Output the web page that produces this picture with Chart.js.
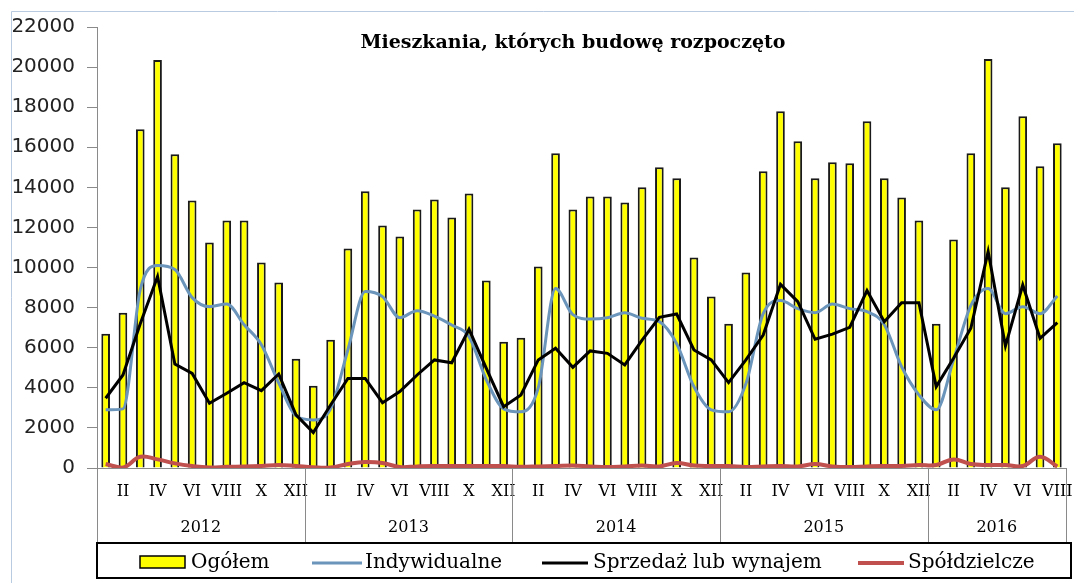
<!DOCTYPE html>
<html><head><meta charset="utf-8">
<script src="https://cdn.jsdelivr.net/npm/chart.js@4"></script>
<style>html,body{margin:0;padding:0;background:#fff}#w{width:1074px;height:583px;position:relative}</style>
</head><body><div id="w"><canvas id="c" width="1074" height="583"></canvas></div>
<script>
const title = 'Mieszkania, których budowę rozpoczęto';
const years = ['2012','2013','2014','2015','2016'];
const monthsPerYear = [12,12,12,12,8];
const roman = ['I','II','III','IV','V','VI','VII','VIII','IX','X','XI','XII'];
const seriesNames = ['Ogółem','Indywidualne','Sprzedaż lub wynajem','Spółdzielcze'];
const yTicks = [0,2000,4000,6000,8000,10000,12000,14000,16000,18000,20000,22000];

const ogolem = [
  6700,7750,16900,20350,15650,13350,11250,12350,12350,10250,9250,5450,
  4100,6400,10950,13800,12100,11550,12900,13400,12500,13700,9350,6300,
  6500,10050,15700,12900,13550,13550,13250,14000,15000,14450,10500,8550,
  7200,9750,14800,17800,16300,14450,15250,15200,17300,14450,13500,12350,
  7200,11400,15700,20400,14000,17550,15050,16200];
const indywidualne = [
  2900,2950,8900,10100,9900,8500,8050,8180,7150,6150,4250,2600,
  2400,2950,5900,8800,8550,7500,7850,7580,7130,6550,4400,2950,
  2800,4000,8950,7650,7430,7500,7750,7470,7300,6200,4050,2900,
  2800,4200,7700,8350,7950,7750,8180,7950,7800,7150,5050,3650,
  2900,5400,8100,8950,7700,8050,7700,8580];
const sprzedaz = [
  3480,4640,7200,9550,5190,4720,3230,3730,4260,3860,4690,2650,
  1770,3140,4470,4470,3260,3810,4640,5390,5250,6920,4970,3060,
  3640,5390,5970,5020,5840,5720,5140,6380,7520,7680,5890,5390,
  4260,5390,6630,9160,8300,6420,6680,7020,8850,7300,8250,8250,
  4060,5470,6970,10800,6090,9130,6470,7250];
const spoldzielcze = [
  200,20,560,430,230,100,30,60,70,100,150,100,
  40,30,200,300,250,50,80,100,100,100,100,100,
  60,80,100,120,80,50,80,120,80,250,120,100,
  100,50,80,100,80,200,80,50,80,100,100,150,
  150,430,200,150,150,100,560,70];

const labels = [];
years.forEach((y,yi)=>{ for(let m=0;m<monthsPerYear[yi];m++) labels.push(roman[m]); });

const colors = {bar:'#ffff00', blue:'#6b95ba', black:'#000000', red:'#c0504d', axis:'#8a8a8a'};

const decor = {
  id:'decor',
  afterDraw(chart){
    const ctx = chart.ctx, x = chart.scales.x, a = chart.chartArea;
    ctx.save();
    ctx.strokeStyle = '#b8cbe0'; ctx.lineWidth = 1;
    ctx.beginPath(); ctx.moveTo(11.5, 600); ctx.lineTo(11.5, 11.5); ctx.lineTo(1100, 11.5); ctx.stroke();
    ctx.fillStyle = '#000'; ctx.font = 'bold 19px "DejaVu Serif"';
    ctx.textAlign = 'center'; ctx.textBaseline = 'middle';
    ctx.fillText(title, 573, 43);
    ctx.font = '16px "DejaVu Serif"'; ctx.fillStyle = '#000';
    labels.forEach((l,i)=>{ if(i%2===1) ctx.fillText(l, x.getPixelForValue(i), 492); });
    ctx.strokeStyle = colors.axis; ctx.lineWidth = 1;
    let start = 0;
    const bounds = [a.left];
    years.forEach((y,yi)=>{
      const end = start + monthsPerYear[yi];
      const left = start===0 ? a.left : (x.getPixelForValue(start-1)+x.getPixelForValue(start))/2;
      const right = end>=labels.length ? a.right : (x.getPixelForValue(end-1)+x.getPixelForValue(end))/2;
      bounds.push(right);
      ctx.fillText(y, (left+right)/2, 528);
      start = end;
    });
    bounds.forEach(b=>{ const px = Math.round(b)+0.5; ctx.beginPath(); ctx.moveTo(px, a.bottom); ctx.lineTo(px, 542); ctx.stroke(); });
    ctx.strokeStyle = '#000'; ctx.lineWidth = 2;
    ctx.strokeRect(97, 543, 974, 35);
    const ly = 563;
    ctx.font = '20px "DejaVu Serif"'; ctx.textAlign = 'left'; ctx.fillStyle = '#000';
    ctx.fillStyle = colors.bar; ctx.fillRect(140, 556, 45, 12);
    ctx.strokeStyle = '#000'; ctx.lineWidth = 1.5; ctx.strokeRect(140, 556, 45, 12);
    ctx.fillStyle = '#000'; ctx.fillText(seriesNames[0], 191, ly);
    const lineItems = [[312,362,365,colors.blue,3,1],[542,588,593,colors.black,3,2],[858,904,908,colors.red,4,3]];
    lineItems.forEach(([x1,x2,tx,c,w,si])=>{
      ctx.strokeStyle = c; ctx.lineWidth = w;
      ctx.beginPath(); ctx.moveTo(x1, ly); ctx.lineTo(x2, ly); ctx.stroke();
      ctx.fillStyle = '#000'; ctx.fillText(seriesNames[si], tx, ly);
    });
    ctx.restore();
  }
};

new Chart(document.getElementById('c'), {
  type:'bar',
  data:{
    labels: labels,
    datasets:[
      {type:'line', label:seriesNames[3], data:spoldzielcze, borderColor:colors.red, borderWidth:4, pointRadius:0, tension:0.4, order:1},
      {type:'line', label:seriesNames[2], data:sprzedaz, borderColor:colors.black, borderWidth:3, pointRadius:0, tension:0, order:2},
      {type:'line', label:seriesNames[1], data:indywidualne, borderColor:colors.blue, borderWidth:3, pointRadius:0, cubicInterpolationMode:'monotone', order:3},
      {type:'bar', label:seriesNames[0], data:ogolem, backgroundColor:colors.bar, borderColor:'#1a1a1a', borderWidth:2, barPercentage:0.5, categoryPercentage:1, order:4}
    ]
  },
  options:{
    responsive:false, animation:false,
    layout:{padding:{left:0,right:8,top:27,bottom:0}},
    plugins:{legend:{display:false}, tooltip:{enabled:false}, title:{display:false}},
    scales:{
      x:{
        ticks:{display:false},
        grid:{display:false},
        border:{display:true,color:colors.axis,width:1},
        afterFit(s){ s.height = 115; }
      },
      y:{
        min:0, max:22000,
        afterBuildTicks(s){ s.ticks = yTicks.map(v=>({value:v})); },
        ticks:{font:{family:'"DejaVu Sans"', size:20}, color:'#222', padding:12, callback:(v)=>String(v)},
        grid:{drawOnChartArea:false, drawTicks:true, tickLength:10, color:colors.axis},
        border:{display:true,color:colors.axis,width:1},
        afterFit(s){ s.width = 97; }
      }
    }
  },
  plugins:[decor]
});
</script></body></html>
